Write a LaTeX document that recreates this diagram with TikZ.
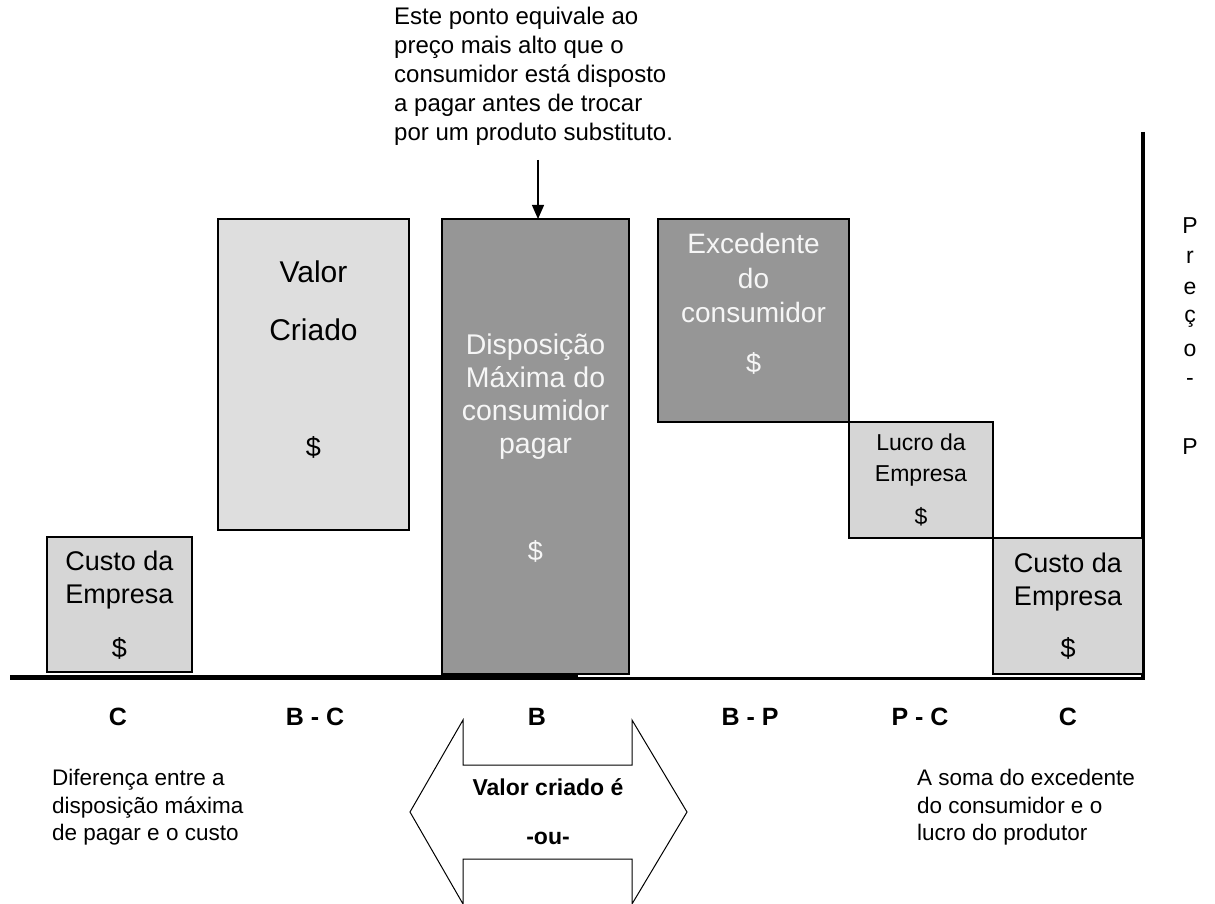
\documentclass[tikz,border=0pt]{standalone}
\usepackage{fontspec}
\setmainfont{Liberation Sans}
\usetikzlibrary{arrows.meta}
\definecolor{light}{HTML}{DEDEDE}
\definecolor{dotgray}{HTML}{D6D6D6}
\definecolor{dark}{HTML}{969696}
\definecolor{pale}{HTML}{F6F6F6}
\begin{document}
\begin{tikzpicture}[x=1pt,y=-1pt,
  box/.style={draw, line width=2.5pt, inner sep=0pt, outer sep=0pt},
  txt/.style={font=\fontsize{27}{33}\selectfont, align=center, inner sep=0pt},
  smalltxt/.style={font=\fontsize{23}{31}\selectfont, align=center, inner sep=0pt},
  note/.style={font=\fontsize{24}{29}\selectfont, align=left, inner sep=0pt},
  lab/.style={font=\bfseries\fontsize{25}{28}\selectfont, inner sep=0pt},
  vert/.style={font=\fontsize{23}{26}\selectfont, inner sep=0pt},
  arr/.style={-{Triangle[width=12pt,length=14pt]}, line width=1.2pt}]
\useasboundingbox (0,0) rectangle (1215,904);

% baseline and axis
\coordinate (bl0) at (10,677);
\coordinate (bl1) at (578,677);
\coordinate (bl2) at (578,678);
\coordinate (bl3) at (1145,678);
\draw[line width=5pt] (bl0) -- (bl1);
\draw[line width=3pt] (bl2) -- (bl3);
\coordinate (ax0) at (1143,132);
\coordinate (ax1) at (1143,679);
\draw[line width=4pt] (ax0) -- (ax1);

% boxes
\node[box, fill=dotgray, minimum width=145, minimum height=135] (b1) at (119.5,604.5) {};
\node[box, fill=light, minimum width=191, minimum height=311] (b2) at (313.5,374.5) {};
\node[box, fill=dark, minimum width=187, minimum height=455] (b3) at (535.5,446.5) {};
\node[box, fill=dark, minimum width=191, minimum height=203] (b4) at (753.5,320.5) {};
\node[box, fill=dotgray, minimum width=144, minimum height=116] (b5) at (921,480) {};
\node[box, fill=dotgray, minimum width=150, minimum height=136] (b6) at (1068,606) {};

% box texts
\node[txt] (t1) at (119.5,580) {Custo da\\Empresa};
\node[txt] (t1d) at (119.5,648) {\$};
\node[txt, font=\fontsize{30}{58}\selectfont] (t2) at (313.5,301) {Valor\\Criado};
\node[txt] (t2d) at (313.5,447) {\$};
\node[txt, text=pale, font=\fontsize{28.5}{33}\selectfont] (t3) at (535.5,397) {Disposição\\Máxima do\\consumidor\\pagar};
\node[txt, text=pale] (t3d) at (535.5,551) {\$};
\node[txt, text=pale, font=\fontsize{28}{34.5}\selectfont] (t4) at (753.5,278) {Excedente\\do\\consumidor};
\node[txt, text=pale] (t4d) at (753.5,363) {\$};
\node[smalltxt] (t5) at (921,460) {Lucro da\\Empresa};
\node[smalltxt] (t5d) at (921,517) {\$};
\node[txt] (t6) at (1068,582) {Custo da\\Empresa};
\node[txt] (t6d) at (1068,648) {\$};

% annotation
\node[note, anchor=north west] (ann) at (394,7) {Este ponto equivale ao\\preço mais alto que o\\consumidor está disposto\\a pagar antes de trocar\\por um produto substituto.};
\coordinate (arrtop) at (538,160);
\draw[arr] (arrtop) -- (arrtop |- b3.north);

% bottom labels
\node[lab] (lC1) at (118,717) {C};
\node[lab] (lBC) at (315,717) {B - C};
\node[lab] (lB) at (537,717) {B};
\node[lab] (lBP) at (750,717) {B - P};
\node[lab] (lPC) at (920,717) {P - C};
\node[lab] (lC2) at (1068,717) {C};

% explanatory texts
\node[note, font=\fontsize{22.5}{27.5}\selectfont, anchor=north west] (left) at (52,769) {Diferença entre a\\disposição máxima\\de pagar e o custo};
\node[note, font=\fontsize{22.5}{27.5}\selectfont, anchor=north west] (right) at (917,769) {A soma do excedente\\do consumidor e o\\lucro do produtor};

% double arrow
\draw[line width=1pt] (410,812) -- (463,720) -- (463,765) -- (632,765) -- (632,720) -- (687,812) -- (632,904) -- (632,859) -- (463,859) -- (463,904) -- cycle;
\node[lab, font=\bfseries\fontsize{23}{28}\selectfont] (vc) at (548,787) {Valor criado é};
\node[lab, font=\bfseries\fontsize{23}{28}\selectfont] (ou) at (548,838) {-ou-};

% vertical price label
\node[vert] (p1) at (1190,226) {P};
\node[vert] (p2) at (1190,257) {r};
\node[vert] (p3) at (1190,288) {e};
\node[vert] (p4) at (1190,319) {ç};
\node[vert] (p5) at (1190,350) {o};
\node[vert] (p6) at (1190,382) {-};
\node[vert] (p7) at (1190,447) {P};
\end{tikzpicture}
\end{document}
